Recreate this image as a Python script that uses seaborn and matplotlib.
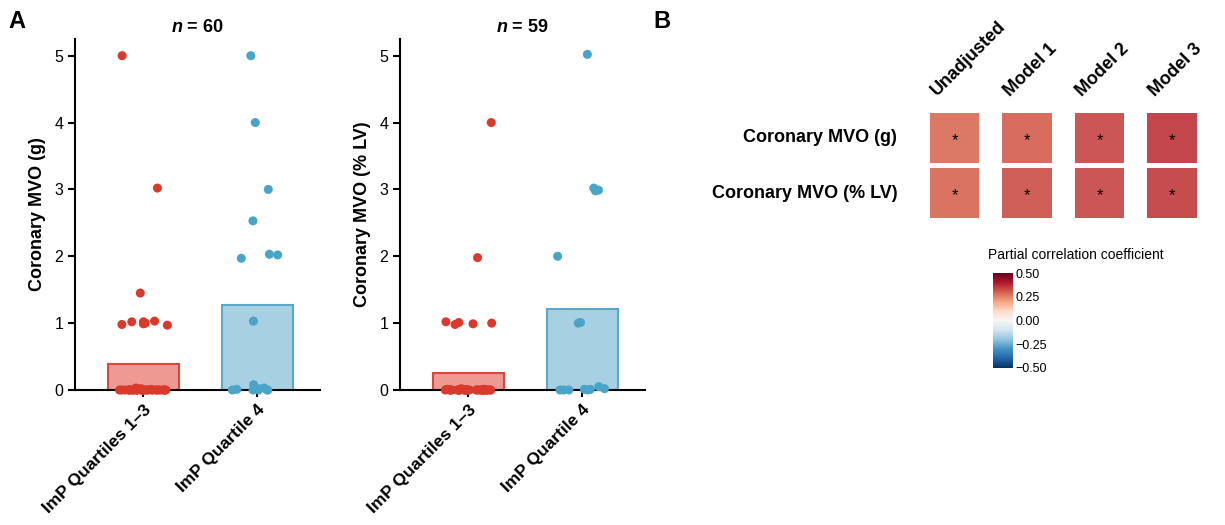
import numpy as np
import pandas as pd
import matplotlib.pyplot as plt
import matplotlib as mpl
import seaborn as sns

# ---- data ----
groups = ['ImP Quartiles 1–3', 'ImP Quartile 4']

# panel A, left: coronary MVO (g), n = 60
mvo_g_q13 = [5.0, 3.02, 1.45, 1.03, 0.97, 1.0, 1.02, 0.98, 1.02, 0.99,
             0.0, 0.0, 0.0, 0.0, 0.0, 0.0, 0.0, 0.0, 0.0, 0.0,
             0.0, 0.0, 0.0, 0.0, 0.0, 0.0, 0.0, 0.0, 0.0, 0.0,
             0.0, 0.0, 0.0, 0.0, 0.0, 0.0, 0.0, 0.0, 0.0, 0.0,
             0.02, 0.03, 0.01]
mvo_g_q4 = [5.0, 4.0, 3.0, 2.53, 2.02, 1.97, 2.03, 1.03,
            0.08, 0.03, 0.02, 0.0, 0.0, 0.01, 0.0, 0.0, 0.0]

# panel A, right: coronary MVO (% LV), n = 59
mvo_lv_q13 = [4.0, 1.98, 1.02, 1.01, 0.99, 0.98, 1.0,
              0.0, 0.0, 0.0, 0.0, 0.0, 0.0, 0.0, 0.0, 0.0, 0.0,
              0.0, 0.0, 0.0, 0.0, 0.0, 0.0, 0.0, 0.0, 0.0, 0.0,
              0.0, 0.0, 0.0, 0.0, 0.0, 0.0, 0.0, 0.0, 0.0, 0.0,
              0.0, 0.0, 0.0, 0.01, 0.02, 0.01, 0.0]
mvo_lv_q4 = [5.02, 3.02, 2.99, 2.98, 2.0, 1.0, 1.01,
             0.0, 0.01, 0.0, 0.05, 0.02, 0.0, 0.0, 0.01]

# panel B: partial correlation coefficients
hm_rows = ['Coronary MVO (g)', 'Coronary MVO (% LV)']
hm_cols = ['Unadjusted', 'Model 1', 'Model 2', 'Model 3']
pcorr_g = [0.29, 0.31, 0.345, 0.37]
pcorr_lv = [0.30, 0.33, 0.345, 0.36]
signif_g = ['*', '*', '*', '*']
signif_lv = ['*', '*', '*', '*']
cbar_ticks = [-0.5, -0.25, 0.0, 0.25, 0.5]
cbar_labels = ['\u22120.50', '\u22120.25', '0.00', '0.25', '0.50']

dot_colors = ['#D93A2B', '#4AA4C8']
fill_colors = ['#EE9A93', '#A7D0E3']
edge_colors = ['#D9473A', '#58A9C9']

sns.set_style('ticks')
plt.rcParams['font.family'] = ['Liberation Sans', 'DejaVu Sans']
plt.rcParams['mathtext.fontset'] = 'custom'
plt.rcParams['mathtext.it'] = 'Liberation Sans:italic:bold'
plt.rcParams['mathtext.rm'] = 'Liberation Sans:bold'
for k in ['text.color', 'axes.labelcolor', 'xtick.color', 'ytick.color',
          'axes.edgecolor']:
    plt.rcParams[k] = 'black'

np.random.seed(7)


def strip_bar(ax, q13, q4, ylabel, n):
    df = pd.DataFrame({'group': [groups[0]] * len(q13) + [groups[1]] * len(q4),
                       'mvo': q13 + q4})
    sns.barplot(data=df, x='group', y='mvo', hue='group', order=groups,
                hue_order=groups, palette=fill_colors, saturation=1,
                errorbar=None, width=0.62, linewidth=1.5, legend=False, ax=ax)
    for patch, ec in zip(ax.patches, edge_colors):
        patch.set_edgecolor(ec)
    sns.stripplot(data=df, x='group', y='mvo', hue='group', order=groups,
                  hue_order=groups, palette=dot_colors, jitter=0.22,
                  size=6.5, linewidth=0, clip_on=False, zorder=3,
                  legend=False, ax=ax)

    ax.set_xlim(-0.6, 1.55)
    ax.set_ylim(0, 5.25)
    ax.set_yticks([0, 1, 2, 3, 4, 5])
    ax.set_xlabel('')
    ax.set_ylabel(ylabel, fontsize=13, fontweight='bold', labelpad=6)
    ax.set_title('$n$ = %d' % n, fontsize=13, fontweight='bold', pad=5)
    sns.despine(ax=ax)
    for s in ['left', 'bottom']:
        ax.spines[s].set_linewidth(1.5)
    ax.tick_params(length=5, width=1.5, color='black', labelsize=11.5)
    ax.set_xticks([0, 1])
    ax.set_xticklabels(groups, rotation=45, ha='right', va='top',
                       rotation_mode='anchor', fontsize=12.5, fontweight='bold')


fig = plt.figure(figsize=(12.25, 5.25), dpi=100)

ax1 = fig.add_axes([75 / 1225, 135 / 525, 245 / 1225, 351 / 525])
strip_bar(ax1, mvo_g_q13, mvo_g_q4, 'Coronary MVO (g)', 60)

ax2 = fig.add_axes([400 / 1225, 135 / 525, 245 / 1225, 351 / 525])
strip_bar(ax2, mvo_lv_q13, mvo_lv_q4, 'Coronary MVO (% LV)', 59)

# ---- panel B: tile heatmap ----
cmap = plt.get_cmap('RdBu_r')
norm = mpl.colors.Normalize(vmin=-0.5, vmax=0.5)

ax3 = fig.add_axes([918.25 / 1225, (525 - 220.5) / 525, 290 / 1225, 110 / 525])
for i, (vals, marks) in enumerate([(pcorr_g, signif_g), (pcorr_lv, signif_lv)]):
    ax3.bar(range(len(hm_cols)), height=0.91, bottom=i - 0.455, width=0.68,
            color=cmap(norm(np.array(vals))), alpha=0.88, linewidth=0)
    for j, m in enumerate(marks):
        ax3.text(j, i + 0.05, m, ha='center', va='center', fontsize=12,
                 color='black')
    ax3.text(-0.79, i, hm_rows[i], ha='right', va='center', fontsize=13,
             fontweight='bold')
for j, lab in enumerate(hm_cols):
    ax3.text(j - 0.2, -0.7, lab, rotation=45, ha='left', va='bottom',
             rotation_mode='anchor', fontsize=13, fontweight='bold')
ax3.set_xlim(-0.5, 3.5)
ax3.set_ylim(1.5, -0.5)
ax3.axis('off')

cax = fig.add_axes([993 / 1225, (525 - 368) / 525, 20 / 1225, 95 / 525])
cb = fig.colorbar(mpl.cm.ScalarMappable(norm=norm, cmap=cmap), cax=cax,
                  ticks=cbar_ticks)
cb.set_ticklabels(cbar_labels)
cb.outline.set_visible(False)
cax.tick_params(direction='in', color='white', length=3, width=1,
                labelsize=9, pad=2, left=True, right=True)
fig.text(988 / 1225, 1 - 259 / 525, 'Partial correlation coefficient',
         fontsize=10)

fig.text(8 / 1225, 1 - 28 / 525, 'A', fontsize=17, fontweight='bold')
fig.text(653 / 1225, 1 - 28 / 525, 'B', fontsize=17, fontweight='bold')

plt.savefig('out.png', dpi=100)
